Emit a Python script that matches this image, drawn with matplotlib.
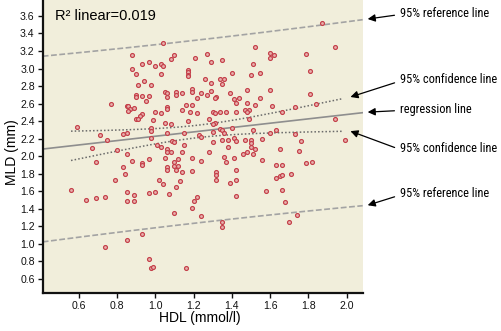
import numpy as np
import matplotlib
matplotlib.use("Agg")
import matplotlib.pyplot as plt
import matplotlib.text as mtext
from matplotlib import font_manager
from matplotlib.font_manager import FontProperties

# ---- data: HDL (mmol/l) vs MLD (mm) ----
hdl = [
    1.04, 0.88, 1.10, 1.08, 1.21, 0.97, 0.93, 1.03, 1.04, 1.00, 0.88, 1.17, 1.17, 1.17, 1.17,
    0.90, 1.03, 0.94, 1.26, 0.91, 0.98, 1.19, 1.05, 1.06, 1.11, 1.11, 1.14, 1.19, 1.24, 0.90,
    0.90, 0.93, 0.97, 1.06, 1.22, 0.95, 0.77, 0.85, 0.86, 0.89, 0.87, 0.86, 1.06, 1.06, 1.16,
    1.19, 1.14, 1.18, 1.00, 1.03, 0.93, 0.92, 1.22, 0.90, 0.91, 0.99, 1.05, 1.08, 1.17, 0.59,
    0.98, 0.98, 1.06, 0.85, 0.83, 0.71, 1.15, 1.23, 0.75, 0.98, 1.09, 1.10, 1.24,
    1.87, 1.52, 1.94, 1.27, 1.60, 1.62, 1.60, 1.79, 1.35, 1.29, 1.51, 1.55, 1.50, 1.40, 1.81,
    1.34, 1.36, 1.29, 1.35, 1.48, 1.60, 1.29, 1.27, 1.39, 1.32, 1.31, 1.55, 1.81, 1.41, 1.44,
    1.42, 1.48, 1.52, 1.84, 1.61, 1.73, 1.47, 1.49, 1.48, 1.66, 1.30, 1.31, 1.34, 1.37, 1.42,
    1.28, 1.49, 1.31, 1.30, 1.94, 1.40, 1.34, 1.35, 1.30, 1.51, 1.63, 1.60, 1.36, 1.73, 1.35,
    1.38, 1.41, 1.42, 1.47, 1.50, 1.50, 1.56, 1.76, 1.99, 1.30,
    0.67, 0.80, 0.85, 1.01, 1.03, 1.06, 1.06, 1.08, 1.14, 1.15, 1.19, 1.24, 0.69, 0.88, 0.93,
    0.93, 0.97, 1.05, 1.10, 1.12, 1.10, 1.12, 1.06, 1.06, 1.11, 1.14, 1.19, 0.83, 0.84, 0.79,
    1.02, 1.04, 1.13, 1.11, 0.56, 0.85, 0.89, 0.97, 1.00, 1.07, 0.64, 0.69, 0.74, 0.85, 0.89,
    1.22, 1.20, 1.19, 1.10, 1.24, 0.93, 0.85, 0.74, 0.97, 0.98, 0.99, 1.16,
    1.38, 1.28, 1.50, 1.52, 1.48, 1.46, 1.51, 1.65, 1.75, 1.36, 1.41, 1.37, 1.56, 1.63, 1.66,
    1.79, 1.82, 1.42, 1.32, 1.32, 1.32, 1.42, 1.39, 1.63, 1.65, 1.66, 1.71, 1.58, 1.66, 1.42,
    1.68, 1.74, 1.70, 1.35, 1.35,
]
mld = [
    3.29, 3.16, 3.16, 3.11, 3.12, 3.08, 3.05, 3.05, 3.03, 3.03, 3.00, 2.98, 2.96, 2.93, 2.91,
    2.94, 2.94, 2.86, 2.88, 2.81, 2.81, 2.77, 2.73, 2.72, 2.73, 2.70, 2.72, 2.73, 2.72, 2.70,
    2.68, 2.69, 2.69, 2.68, 2.66, 2.63, 2.60, 2.57, 2.57, 2.55, 2.54, 2.52, 2.56, 2.54, 2.58,
    2.59, 2.53, 2.51, 2.50, 2.49, 2.48, 2.46, 2.49, 2.43, 2.42, 2.41, 2.38, 2.37, 2.40, 2.33,
    2.32, 2.29, 2.27, 2.27, 2.25, 2.24, 2.26, 2.24, 2.19, 2.21, 2.17, 2.16, 2.22,
    3.52, 3.25, 3.25, 3.17, 3.18, 3.16, 3.12, 3.17, 3.10, 3.08, 3.05, 2.95, 2.93, 2.95, 2.97,
    2.88, 2.88, 2.84, 2.82, 2.76, 2.75, 2.74, 2.70, 2.72, 2.68, 2.67, 2.67, 2.71, 2.65, 2.66,
    2.61, 2.61, 2.59, 2.60, 2.57, 2.56, 2.53, 2.53, 2.50, 2.51, 2.51, 2.49, 2.50, 2.51, 2.51,
    2.42, 2.42, 2.38, 2.37, 2.42, 2.32, 2.31, 2.30, 2.28, 2.30, 2.30, 2.27, 2.27, 2.25, 2.19,
    2.19, 2.21, 2.17, 2.19, 2.19, 2.15, 2.20, 2.17, 2.19, 2.16,
    2.09, 2.07, 2.03, 2.13, 2.11, 2.08, 2.05, 2.05, 2.05, 2.13, 1.98, 1.95, 1.93, 1.95, 1.92,
    1.90, 1.97, 1.98, 1.94, 1.97, 1.89, 1.89, 1.88, 1.84, 1.84, 1.82, 1.83, 1.88, 1.80, 1.73,
    1.73, 1.68, 1.72, 1.65, 1.61, 1.59, 1.56, 1.58, 1.59, 1.57, 1.50, 1.52, 1.54, 1.49, 1.49,
    1.54, 1.49, 1.41, 1.35, 1.32, 1.11, 1.05, 0.97, 0.83, 0.73, 0.74, 0.73,
    2.11, 2.05, 2.11, 2.08, 2.05, 2.02, 2.02, 2.08, 2.06, 1.99, 1.98, 1.93, 1.96, 1.90, 1.90,
    1.92, 1.93, 1.84, 1.82, 1.79, 1.73, 1.73, 1.69, 1.75, 1.77, 1.79, 1.80, 1.60, 1.61, 1.55,
    1.48, 1.33, 1.25, 1.25, 1.19,
]

# ---- linear fit summary ----
reg_intercept = 1.98
reg_slope = 0.248
r2_linear = 0.019
hdl_mean = 1.224
t_resid_sd = 1.04       # t(0.975) * residual SD
n_fit = 215
sxx = 20.8              # sum of squared HDL deviations
conf_range = (0.56, 1.975)

x_ticks = [0.6, 0.8, 1.0, 1.2, 1.4, 1.6, 1.8, 2.0]
y_ticks = [0.6, 0.8, 1.0, 1.2, 1.4, 1.6, 1.8, 2.0, 2.2, 2.4, 2.6, 2.8, 3.0, 3.2, 3.4, 3.6]

# ---- fonts ----
installed = {f.name for f in font_manager.fontManager.ttflist}
regular = "Liberation Sans" if "Liberation Sans" in installed else "DejaVu Sans"


def pick_condensed():
    """Return FontProperties for a narrow sans face if one is installed."""
    narrow_names = ["Liberation Sans Narrow", "Arial Narrow", "Roboto Condensed",
                    "Open Sans Condensed", "DejaVu Sans Condensed"]
    for name in narrow_names:
        if name in installed:
            return FontProperties(family=name)
    cond = ("condensed", "semi-condensed", "extra-condensed", "ultra-condensed")
    for fam in ["Roboto", "Open Sans", "Noto Sans", "DejaVu Sans", "Liberation Sans", "Lato"]:
        for f in font_manager.fontManager.ttflist:
            w = f.weight if isinstance(f.weight, int) else {"normal": 400, "regular": 400}.get(str(f.weight), 0)
            if f.name == fam and str(f.stretch) in cond and f.style == "normal" and w == 400:
                return FontProperties(fname=f.fname)
    return FontProperties(family=regular)


callout_font = pick_condensed()
tick_font = FontProperties(family=regular, size=7.6)


def fit(x):
    return reg_intercept + reg_slope * np.asarray(x)


def conf_half(x):
    return t_resid_sd * np.sqrt(1.0 / n_fit + (np.asarray(x) - hdl_mean) ** 2 / sxx)


def pred_half(x):
    return t_resid_sd * np.sqrt(1.0 + 1.0 / n_fit + (np.asarray(x) - hdl_mean) ** 2 / sxx)


W, H = 502, 331
fig = plt.figure(figsize=(W / 100, H / 100), dpi=100)
ax_left, ax_right, ax_bottom_px = 42.7, 362.7, 293.3
ax = fig.add_axes([ax_left / W, (H - ax_bottom_px) / H, (ax_right - ax_left) / W, ax_bottom_px / H])
ax.set_facecolor("#F1EEDB")
ax.set_xlim(0.412, 2.084)
ax.set_ylim(0.437, 3.782)

xs = np.linspace(*ax.get_xlim(), 200)
xc = np.linspace(*conf_range, 200)

# prediction (reference) lines
ref_style = dict(color="#a3a3a3", lw=1.2, dashes=(3.5, 1.5), zorder=2)
ax.plot(xs, fit(xs) + pred_half(xs), **ref_style)
ax.plot(xs, fit(xs) - pred_half(xs), **ref_style)
# regression line
ax.plot(xs, fit(xs), color="#8e8e8e", lw=1.2, zorder=2)
# confidence lines
conf_style = dict(color="#6a6a6a", lw=1.1, linestyle=(0, (1, 1.4)), zorder=2)
ax.plot(xc, fit(xc) + conf_half(xc), **conf_style)
ax.plot(xc, fit(xc) - conf_half(xc), **conf_style)

ax.scatter(hdl, mld, s=8, marker="o", facecolor="#e8b0ac", edgecolor="#c43f49",
           linewidths=0.85, zorder=3)

# axes styling
for side in ("top", "right"):
    ax.spines[side].set_visible(False)
for side in ("left", "bottom"):
    ax.spines[side].set_linewidth(1.6)
    ax.spines[side].set_color("#111111")
ax.set_xticks(x_ticks)
ax.set_yticks(y_ticks)
ax.set_xticklabels([f"{v:.1f}" for v in x_ticks], fontproperties=tick_font)
ax.set_yticklabels([f"{v:.1f}" for v in y_ticks], fontproperties=tick_font)
ax.tick_params(direction="out", length=3.5, width=1.0, pad=2.3, color="#111111",
               labelcolor="#111111")

ax.set_xlabel("HDL (mmol/l)", family=regular, fontsize=10, va="top")
ax.xaxis.set_label_coords(0.49, -0.06)
ax.set_ylabel("MLD (mm)", family=regular, fontsize=10)
ax.yaxis.set_label_coords(-0.075, 0.48)

fig.text(55 / W, 1 - 16 / H, f"R\u00b2 linear={r2_linear:.3f}", family=regular,
         fontsize=10.5, ha="left", va="center")

# callouts
tip_ref, tip_conf = 2.11, 2.02
callouts = [
    ("95% reference line", (tip_ref, float(fit(tip_ref) + pred_half(tip_ref))), 16.7),
    ("95% confidence line", (tip_conf, float(fit(tip_conf) + conf_half(tip_conf))), 83.3),
    ("regression line", (tip_ref, float(fit(tip_ref))), 112.7),
    ("95% confidence line", (tip_conf, float(fit(tip_conf) - conf_half(tip_conf))), 151.7),
    ("95% reference line", (tip_ref, float(fit(tip_ref) - pred_half(tip_ref))), 197.3),
]
notes = []
for text, tip, base_px in callouts:
    fp = callout_font.copy()
    fp.set_size(10)
    notes.append(ax.annotate(text, xy=tip, xycoords="data",
                             xytext=(400, H - base_px), textcoords="figure pixels",
                             ha="left", va="baseline", fontproperties=fp,
                             annotation_clip=False,
                             arrowprops=dict(arrowstyle="-|>", color="black", lw=0.9,
                                             mutation_scale=11, shrinkA=2, shrinkB=0,
                                             relpos=(0.0, 0.4))))

# size the callout text so the longest label spans about 97 px (text only, no arrow)
renderer = fig.canvas.get_renderer()
widest = max(mtext.Text.get_window_extent(n, renderer).width for n in notes)
scale = min(1.0, 97.0 / widest)
for n in notes:
    n.set_fontsize(10 * scale)

fig.savefig("out.png", dpi=100)
